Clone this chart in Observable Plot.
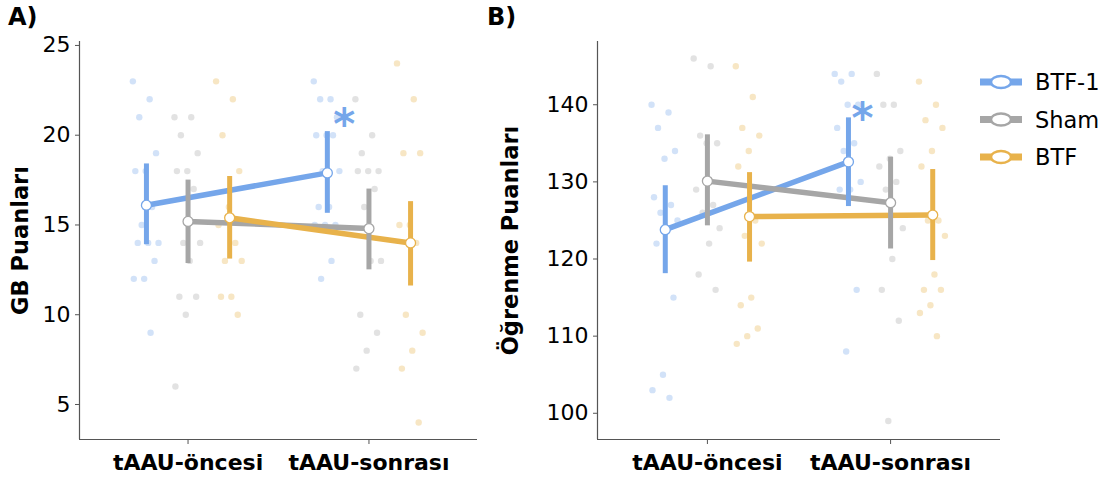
<!DOCTYPE html>
<html><head><meta charset="utf-8">
<script src="https://cdn.jsdelivr.net/npm/d3@7"></script>
<script src="https://cdn.jsdelivr.net/npm/@observablehq/plot@0.6"></script>
<style>
body{margin:0;background:#fff;font-family:"DejaVu Sans",sans-serif;}
#wrap{position:relative;width:1115px;height:481px;overflow:hidden;}
.panel{position:absolute;top:0;}
.tag{position:absolute;font-weight:bold;font-size:24px;color:#000;}
</style></head><body>
<div id="wrap"></div>
<script>
const groups = ["BTF-1", "Sham", "BTF"];
const colors = ["#75a6ea", "#a6a6a6", "#e8b24b"];
const times = ["tAAU-öncesi", "tAAU-sonrası"];

// Panel A: GB Puanları (individual scores)
const gbPre_BTF1  = [23,22,21,19,18,18,16,15,14,14,14,13,12,12,9];
const gbPre_Sham  = [21,21,20,19,18,18,17,14,14,13,11,11,10,6];
const gbPre_BTF   = [23,22,20,18,16,15,14,13,13,11,11,10];
const gbPost_BTF1 = [23,22,22,21,20,20,20,18,18,16,16,15,15,15,13,12];
const gbPost_Sham = [22,20,19,18,18,18,17,16,13,13,10,9,8,7];
const gbPost_BTF  = [24,22,19,19,15,15,14,10,9,8,7,4];
// Panel A: means and confidence intervals (BTF-1, Sham, BTF)
const gbMeanPre  = [16.1, 15.2, 15.4];
const gbMeanPost = [17.9, 14.8, 14.0];
const gbLoPre  = [13.9, 12.85, 13.1];
const gbHiPre  = [18.4, 17.5, 17.7];
const gbLoPost = [15.65, 12.5, 11.6];
const gbHiPost = [20.2, 17.0, 16.3];
const gbTicks = [5, 10, 15, 20, 25];

// Panel B: Öğrenme Puanları (individual scores)
const ogPre_BTF1  = [140,139,137,134,133,128,127,126,125,124,122,115,105,103,102];
const ogPre_Sham  = [146,145,136,135,135,129,127,126,124,122,118,116];
const ogPre_BTF   = [145,141,137,136,134,132,125,123,122,115,114,111,110,109];
const ogPost_BTF1 = [144,144,143,140,140,137,135,134,130,129,129,116,108];
const ogPost_Sham = [144,140,140,134,133,132,130,129,124,120,116,112,99];
const ogPost_BTF  = [143,140,138,137,134,132,125,125,123,118,116,116,114,113,110];
// Panel B: means and confidence intervals
const ogMeanPre  = [123.8, 130.1, 125.5];
const ogMeanPost = [132.6, 127.3, 125.7];
const ogLoPre  = [118.1, 124.3, 119.6];
const ogHiPre  = [129.5, 136.1, 131.2];
const ogLoPost = [126.8, 121.3, 119.8];
const ogHiPost = [138.3, 133.2, 131.6];
const ogTicks = [100, 110, 120, 130, 140];

// significance marker: group BTF-1 at post
const sigGroup = "BTF-1", sigTime = 1;

const dodge = [-0.23, 0, 0.23];
const jitter = i => (((i * 0.6180339887) % 1) - 0.5) * 0.15;

function buildPanel(o) {
  const pts = [];
  o.raw.forEach((byTime, g) => byTime.forEach((vals, t) => vals.forEach((v, i) =>
    pts.push({x: t + 1 + dodge[g] + jitter(i), y: v, c: colors[g]}))));
  const means = [];
  for (let g = 0; g < 3; g++) for (let t = 0; t < 2; t++)
    means.push({x: t + 1 + dodge[g], y: o.mean[t][g], lo: o.lo[t][g], hi: o.hi[t][g], g: groups[g], c: colors[g]});
  const sig = means.filter(d => d.g === sigGroup && d.x === sigTime + 1 + dodge[0]);
  const xd = [0.4, 2.6];
  return Plot.plot({
    width: o.width, height: 481,
    marginLeft: o.ml, marginRight: o.mr, marginTop: 41, marginBottom: 42,
    style: {fontFamily: "DejaVu Sans", fontSize: "22px", color: "#000", background: "transparent"},
    x: {domain: xd},
    y: {domain: o.yd},
    color: {type: "identity"},
    marks: [
      Plot.dot(pts, {x: "x", y: "y", r: 3.2, fill: "c", fillOpacity: 0.33}),
      Plot.line(means, {x: "x", y: "y", z: "g", stroke: "c", strokeWidth: 5.5}),
      Plot.ruleX(means, {x: "x", y1: "lo", y2: "hi", stroke: "c", strokeWidth: 5}),
      Plot.dot(means, {x: "x", y: "y", r: 5, fill: "white", stroke: "c", strokeWidth: 1.3}),
      Plot.text(sig, {x: "x", y: "hi", text: () => "*", fill: "c", fontSize: 42, fontWeight: "bold", dx: o.sdx, dy: o.sdy}),
      Plot.ruleX([xd[0]], {stroke: "#555", strokeWidth: 1.2}),
      Plot.ruleY([o.yd[0]], {stroke: "#555", strokeWidth: 1.2}),
      Plot.axisY({ticks: o.ticks, tickSize: 4, tickPadding: 5, label: null, stroke: "#555", fontSize: 22}),
      Plot.axisX({ticks: [1, 2], tickFormat: d => times[d - 1], tickSize: 5, tickPadding: 10,
        label: null, fontWeight: "bold", fontSize: 22, stroke: "#555"}),
      Plot.text([o.ylabel], {frameAnchor: "left", textAnchor: "middle", rotate: -90, dx: o.ldx, text: d => d,
        fontWeight: "bold", fontSize: 22.5, fill: "#000"})
    ]
  });
}

const wrap = document.getElementById("wrap");
const pA = buildPanel({
  width: 480, ml: 79, mr: 3, yd: [3.05, 25.22], ticks: gbTicks, ylabel: "GB Puanları", ldx: -59,
  raw: [[gbPre_BTF1, gbPost_BTF1], [gbPre_Sham, gbPost_Sham], [gbPre_BTF, gbPost_BTF]],
  mean: [gbMeanPre, gbMeanPost], lo: [gbLoPre, gbLoPost], hi: [gbHiPre, gbHiPost], sdx: 17, sdy: -6
});
pA.classList.add("panel"); pA.style.left = "0px";
wrap.appendChild(pA);

const pB = buildPanel({
  width: 520, ml: 107, mr: 10, yd: [96.6, 148.2], ticks: ogTicks, ylabel: "Öğrenme Puanları", ldx: -87,
  raw: [[ogPre_BTF1, ogPost_BTF1], [ogPre_Sham, ogPost_Sham], [ogPre_BTF, ogPost_BTF]],
  mean: [ogMeanPre, ogMeanPost], lo: [ogLoPre, ogLoPost], hi: [ogHiPre, ogHiPost], sdx: 14, sdy: 2
});
pB.classList.add("panel"); pB.style.left = "490px";
wrap.appendChild(pB);

for (const [t, l] of [["A)", 8], ["B)", 487]]) {
  const d = document.createElement("div");
  d.className = "tag"; d.textContent = t; d.style.left = l + "px"; d.style.top = "3px";
  wrap.appendChild(d);
}

// legend
const leg = d3.select(wrap).append("svg").attr("width", 145).attr("height", 130)
  .style("position", "absolute").style("left", "970px").style("top", "60px");
groups.forEach((g, i) => {
  const y = 22 + i * 37.5;
  leg.append("line").attr("x1", 10).attr("x2", 52).attr("y1", y).attr("y2", y)
    .attr("stroke", colors[i]).attr("stroke-width", 7);
  leg.append("ellipse").attr("cx", 31).attr("cy", y).attr("rx", 10).attr("ry", 6)
    .attr("fill", "white").attr("stroke", colors[i]).attr("stroke-width", 2.5);
  leg.append("text").attr("x", 65).attr("y", y).attr("dy", "0.36em")
    .attr("font-family", "DejaVu Sans").attr("font-size", 22.5).text(g);
});
</script>
</body></html>
